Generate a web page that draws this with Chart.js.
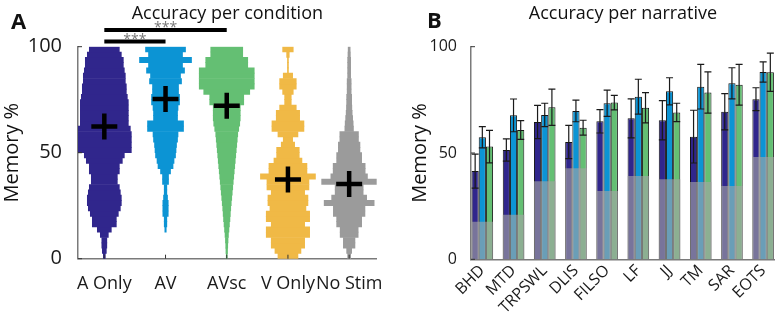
<!DOCTYPE html>
<html><head><meta charset="utf-8">
<script src="https://cdn.jsdelivr.net/npm/chart.js@4.4.1/dist/chart.umd.min.js"></script>
<style>
html,body{margin:0;padding:0;background:#fff;overflow:hidden;width:775px;height:318px}
#wrapA{position:absolute;left:0;top:0;width:400px;height:318px}
#wrapB{position:absolute;left:400px;top:0;width:375px;height:318px}
canvas{display:block}
</style></head><body>
<div id="wrapA"><canvas id="cA" width="400" height="318"></canvas></div>
<div id="wrapB"><canvas id="cB" width="375" height="318"></canvas></div>
<script>
// ---------- Panel A data ----------
const conditions = ['A Only', 'AV', 'AVsc', 'V Only', 'No Stim'];
// histogram widths (relative counts) for 2.5%-wide bins from 0 to 100
const aOnlyHist  = [1,2,2.5,2.5,4,7,12,12,14,16,17,17,16,15,13,13,15,15,18,20,27,27,27,27,26,24,24,24,24,24,23,22,22,21,21,20,19,19,17,15];
const avHist     = [0,0,0,0,0,0.7,1.3,1.3,2.7,2.7,2.7,2,1.3,1.3,3,3,5,7.5,8.5,10,10.5,11,12,12.5,18,18,12,12,12.5,14,14,13,13,16,15,19,17,26,17,20];
const avscHist   = [0.5,0.8,1,1.3,1.7,2.2,2.7,3.2,3.6,4,4.5,5,5.5,6,6.5,7,7.5,8,8.5,9,9.5,10,10.5,11,12,13,13.5,13.5,13.5,17,17,23,27.5,27.5,27.5,27.5,21,21,16,16];
const vOnlyHist  = [10,13,16.7,16.7,21.7,21.7,16.7,21.7,21.7,18,20,20,16.7,21,21,27.5,19,19,14,11.3,11.3,6.7,4.7,10,16,16,11.7,11.7,8.3,3.3,3.3,5.3,8.3,8.3,4.7,0.5,0.5,0.5,1.3,5.3];
const noStimHist = [1.5,2.5,5.8,5.8,9,9,12.5,12.5,15.8,15.8,25,17.5,14,14,27.5,18.3,16,16,12.5,12.5,10.8,10.8,9.3,9.3,4.3,4,3.5,3,2.7,2.5,2.5,2,2,2,1.5,1.5,1.5,1.5,1.2,1];
const conditionMeans = [62.3, 75.3, 72.2, 37.4, 35.2];
const sigPairs  = [[1, 3], [1, 2]];
const sigLabels = ['***', '***'];
const sigLevels = [107.9, 102.4];
const yTicksA = [0, 50, 100];

// ---------- Panel B data ----------
const narratives = ['BHD','MTD','TRPSWL','DLIS','FILSO','LF','JJ','TM','SAR','EOTS'];
const aOnlyAcc = [41.5, 51.4, 64.6, 55.2, 64.9, 66.3, 65.4, 57.7, 69.4, 75.3];
const aOnlyErr = [8.0, 5.2, 7.8, 7.8, 5.5, 9.2, 9.2, 12.4, 8.5, 5.4];
const avAcc    = [57.4, 67.7, 67.9, 69.8, 73.4, 76.5, 79.0, 81.2, 82.8, 88.1];
const avErr    = [5.0, 7.7, 5.5, 5.1, 6.2, 8.2, 6.4, 10.5, 7.3, 4.8];
const avscAcc  = [53.0, 60.8, 71.5, 61.9, 73.7, 71.3, 69.1, 78.5, 82.1, 88.0];
const avscErr  = [7.6, 4.4, 8.5, 3.5, 3.4, 7.1, 4.3, 9.7, 9.6, 9.0];
const noStimAcc = [17.7, 21.0, 36.7, 42.8, 32.1, 39.2, 37.6, 36.4, 34.5, 48.1];
const yTicksB = [0, 50, 100];

// ---------- style ----------
const FONT = '"Open Sans", "Noto Sans", "Liberation Sans", sans-serif';
const colDark = '#30268c', colBlue = '#0c94d4', colGreen = '#64bf73', colYellow = '#f0b946', colGray = '#9b9b9b';
const violinColors = [colDark, colBlue, colGreen, colYellow, colGray];
const axisCol = '#7a7a7a';
const histScale = 1 / 61.2;
Chart.defaults.font.family = FONT;
Chart.defaults.color = '#1a1a1a';
Chart.defaults.animation = false;

const hists = [aOnlyHist, avHist, avscHist, vOnlyHist, noStimHist];
const binCenters = aOnlyHist.map((_, i) => 1.25 + 2.5 * i);

function violinData(hist, pos) {
  const out = [];
  hist.forEach((w, i) => { if (w > 0) out.push({ y: binCenters[i], x: [pos - w * histScale, pos + w * histScale] }); });
  return out;
}

const datasetsA = hists.map((h, k) => ({
  type: 'bar', indexAxis: 'y', grouped: false,
  data: violinData(h, k + 1),
  backgroundColor: violinColors[k], borderWidth: 0,
  categoryPercentage: 1, barPercentage: 1, order: 2
}));
datasetsA.push({
  type: 'scatter', data: conditionMeans.map((m, i) => ({ x: i + 1, y: m })),
  pointStyle: 'cross', pointRadius: 13, pointHoverRadius: 13, borderWidth: 4.5,
  borderColor: '#000', backgroundColor: '#000', order: 0
});
sigPairs.forEach((p, k) => {
  datasetsA.push({
    type: 'line', data: [{ x: p[0], y: sigLevels[k] }, { x: p[1], y: sigLevels[k] }],
    borderColor: '#000', borderWidth: 4, pointRadius: 0, clip: false, order: 0
  });
});

const annotA = {
  id: 'annotA',
  afterDraw(chart) {
    const { ctx, chartArea, scales } = chart;
    ctx.save();
    ctx.fillStyle = '#111';
    ctx.textBaseline = 'alphabetic';
    ctx.font = '18px ' + FONT; ctx.textAlign = 'center';
    ctx.fillText('Accuracy per condition', (chartArea.left + chartArea.right) / 2, 18.5);
    ctx.font = 'bold 22px ' + FONT; ctx.textAlign = 'left';
    ctx.fillText('A', 11, 28.5);
    ctx.fillStyle = '#777'; ctx.font = '14px ' + FONT; ctx.textAlign = 'center';
    sigPairs.forEach((p, k) => {
      const xm = scales.x.getPixelForValue((p[0] + p[1]) / 2);
      ctx.fillText(sigLabels[k], xm, scales.y.getPixelForValue(sigLevels[k]) + 2);
    });
    // inward tick marks
    ctx.strokeStyle = '#333'; ctx.lineWidth = 1;
    ctx.beginPath();
    yTicksA.forEach(v => { const y = scales.y.getPixelForValue(v); ctx.moveTo(chartArea.left, y); ctx.lineTo(chartArea.left + 4, y); });
    conditions.forEach((c, i) => { const x = scales.x.getPixelForValue(i + 1); ctx.moveTo(x, chartArea.bottom); ctx.lineTo(x, chartArea.bottom - 4); });
    ctx.stroke();
    ctx.restore();
  }
};

new Chart(document.getElementById('cA'), {
  type: 'bar',
  data: { datasets: datasetsA },
  options: {
    responsive: false, devicePixelRatio: 1, animation: false,
    layout: { padding: { top: 46.7, left: 0, right: 23.3, bottom: 0 } },
    plugins: { legend: { display: false }, tooltip: { enabled: false }, title: { display: false } },
    scales: {
      x: {
        type: 'linear', position: 'bottom', min: 0.57, max: 5.45, offset: false,
        grid: { display: false },
        border: { display: true, color: axisCol, width: 1.5 },
        afterBuildTicks: s => { s.ticks = conditions.map((c, i) => ({ value: i + 1 })); },
        ticks: { callback: v => conditions[v - 1], font: { size: 18 }, padding: 6, maxRotation: 0, minRotation: 0, autoSkip: false, color: '#1a1a1a' },
        afterFit: s => { s.height = 318 - 258.7; }
      },
      y: {
        type: 'linear', position: 'left', min: 0, max: 100, offset: false,
        grid: { display: false },
        border: { display: true, color: axisCol, width: 1.5 },
        afterBuildTicks: s => { s.ticks = yTicksA.map(v => ({ value: v })); },
        ticks: { font: { size: 20 }, padding: 8, color: '#1a1a1a' },
        title: { display: true, text: 'Memory %', font: { size: 20 }, padding: { top: 0, bottom: 0 }, color: '#111' },
        afterFit: s => { s.width = 78; }
      }
    }
  },
  plugins: [annotA]
});

// ---------- Panel B ----------
const accSets = [aOnlyAcc, avAcc, avscAcc];
const errSets = [aOnlyErr, avErr, avscErr];
const barCols = [colDark, colBlue, colGreen];
const datasetsB = accSets.map((a, k) => ({
  type: 'bar', data: a.map((v, i) => ({ x: i, y: v })),
  backgroundColor: barCols[k], borderColor: '#151515', borderWidth: 1,
  categoryPercentage: 0.69, barPercentage: 1, order: 1
}));
datasetsB.push({
  type: 'bar', grouped: false, data: noStimAcc.map((v, i) => ({ x: i, y: v })),
  backgroundColor: 'rgba(165,165,165,0.62)', borderWidth: 0,
  categoryPercentage: 1, barPercentage: 0.69, order: 0
});

const annotB = {
  id: 'annotB',
  afterDatasetsDraw(chart) {
    const { ctx, scales } = chart;
    ctx.save();
    ctx.strokeStyle = '#1a1a1a'; ctx.lineWidth = 1.2;
    errSets.forEach((errs, k) => {
      const meta = chart.getDatasetMeta(k);
      meta.data.forEach((bar, i) => {
        const v = accSets[k][i], e = errs[i];
        const yt = scales.y.getPixelForValue(v + e), yb = scales.y.getPixelForValue(v - e);
        const x = bar.x;
        ctx.beginPath();
        ctx.moveTo(x, yt); ctx.lineTo(x, yb);
        ctx.moveTo(x - 3.5, yt); ctx.lineTo(x + 3.5, yt);
        ctx.moveTo(x - 3.5, yb); ctx.lineTo(x + 3.5, yb);
        ctx.stroke();
      });
    });
    ctx.restore();
  },
  afterDraw(chart) {
    const { ctx, chartArea, scales } = chart;
    ctx.save();
    ctx.fillStyle = '#111'; ctx.textBaseline = 'alphabetic';
    ctx.font = '18px ' + FONT; ctx.textAlign = 'center';
    ctx.fillText('Accuracy per narrative', (chartArea.left + chartArea.right) / 2, 18.5);
    ctx.font = 'bold 22px ' + FONT; ctx.textAlign = 'left';
    ctx.fillText('B', 27, 27.5);
    ctx.strokeStyle = '#333'; ctx.lineWidth = 1;
    ctx.beginPath();
    yTicksB.forEach(v => { const y = scales.y.getPixelForValue(v); ctx.moveTo(chartArea.left, y); ctx.lineTo(chartArea.left + 4, y); });
    ctx.stroke();
    ctx.restore();
  }
};

new Chart(document.getElementById('cB'), {
  type: 'bar',
  data: { datasets: datasetsB },
  options: {
    responsive: false, devicePixelRatio: 1, animation: false,
    layout: { padding: { top: 46.7, left: 0, right: 0, bottom: 0 } },
    plugins: { legend: { display: false }, tooltip: { enabled: false }, title: { display: false } },
    scales: {
      x: {
        type: 'linear', position: 'bottom', min: -0.363, max: 9.38, offset: false,
        grid: { display: false },
        border: { display: true, color: axisCol, width: 1.5 },
        afterBuildTicks: s => { s.ticks = narratives.map((n, i) => ({ value: i })); },
        ticks: { callback: v => narratives[v], font: { size: 16 }, padding: -6, maxRotation: 45, minRotation: 45, autoSkip: false, color: '#1a1a1a' },
        afterFit: s => { s.height = 318 - 259.3; }
      },
      y: {
        type: 'linear', position: 'left', min: 0, max: 100, offset: false,
        grid: { display: false },
        border: { display: true, color: axisCol, width: 1.5 },
        afterBuildTicks: s => { s.ticks = yTicksB.map(v => ({ value: v })); },
        ticks: { font: { size: 16 }, padding: 6, color: '#1a1a1a' },
        title: { display: true, text: 'Memory %', font: { size: 20 }, padding: { top: 8, bottom: 0 }, color: '#111' },
        afterFit: s => { s.width = 71; }
      }
    }
  },
  plugins: [annotB]
});
</script>
</body></html>
